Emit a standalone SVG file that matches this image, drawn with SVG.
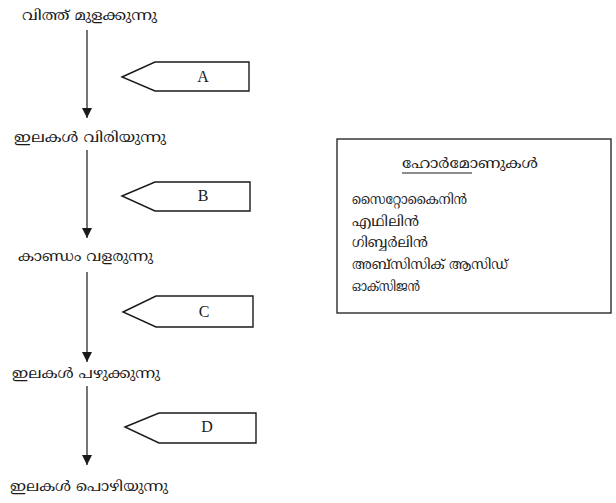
<svg xmlns="http://www.w3.org/2000/svg" width="616" height="503" viewBox="0 0 616 503">
<defs>
<style>
.ml{font-family:"Noto Serif Malayalam","Rachana","Noto Sans Malayalam","Lohit Malayalam","Meera","Manjari","DejaVu Serif",serif;font-size:14px;fill:#1a1a1a;}
.lbl{font-family:"Liberation Serif","Times New Roman",serif;font-size:16px;fill:#1a1a1a;text-anchor:middle;}
.tag{fill:#fff;stroke:#1a1a1a;stroke-width:1.4;stroke-linejoin:miter;}
.flow{stroke:#1a1a1a;stroke-width:1.2;fill:none;}
.box{fill:#fff;stroke:#1a1a1a;stroke-width:1.3;}
</style>
<marker id="ah" viewBox="0 0 10 10" refX="10" refY="5" markerWidth="10" markerHeight="10" markerUnits="userSpaceOnUse" orient="auto">
<path d="M0,0 L10,5 L0,10 Z" fill="#1a1a1a"/>
</marker>
</defs>
<rect width="616" height="503" fill="#fff"/>

<g id="connectors">
<line class="flow" x1="87" y1="30" x2="87" y2="118" marker-end="url(#ah)"/>
<line class="flow" x1="87" y1="150" x2="87" y2="238" marker-end="url(#ah)"/>
<line class="flow" x1="87" y1="272" x2="87" y2="362" marker-end="url(#ah)"/>
<line class="flow" x1="87" y1="386" x2="87" y2="465" marker-end="url(#ah)"/>
</g>

<g id="step1"><text class="ml" x="22" y="20" textLength="135" lengthAdjust="spacingAndGlyphs">വിത്ത് മുളക്കുന്നു</text></g>
<g id="step2"><text class="ml" x="14" y="142" textLength="152" lengthAdjust="spacingAndGlyphs">ഇലകൾ വിരിയുന്നു</text></g>
<g id="step3"><text class="ml" x="18" y="261" textLength="135" lengthAdjust="spacingAndGlyphs">കാണ്ഡം വളരുന്നു</text></g>
<g id="step4"><text class="ml" x="12" y="378" textLength="148" lengthAdjust="spacingAndGlyphs">ഇലകൾ പഴുക്കുന്നു</text></g>
<g id="step5"><text class="ml" x="10" y="491" textLength="158" lengthAdjust="spacingAndGlyphs">ഇലകൾ പൊഴിയുന്നു</text></g>

<g id="tagA"><polygon class="tag" points="122,77 155,62 249,62 249,91 155,91"/><text class="lbl" x="203" y="82">A</text></g>
<g id="tagB"><polygon class="tag" points="122,196 155,182 250,182 250,211 155,211"/><text class="lbl" x="203" y="201">B</text></g>
<g id="tagC"><polygon class="tag" points="123,312 156,296 253,296 253,327 156,327"/><text class="lbl" x="204" y="317">C</text></g>
<g id="tagD"><polygon class="tag" points="125,427 159,413 256,413 256,443 159,443"/><text class="lbl" x="207" y="432">D</text></g>

<g id="hormones">
<rect class="box" x="337" y="139" width="274" height="174"/>
<text class="ml" x="402" y="168" textLength="136" lengthAdjust="spacingAndGlyphs">ഹോർമോണുകൾ</text>
<line x1="402" y1="173" x2="472" y2="173" stroke="#1a1a1a" stroke-width="1"/>
<text class="ml" x="352" y="204" textLength="115" lengthAdjust="spacingAndGlyphs">സൈറ്റോകൈനിൻ</text>
<text class="ml" x="352" y="226" textLength="67" lengthAdjust="spacingAndGlyphs">എഥിലിൻ</text>
<text class="ml" x="352" y="247" textLength="76" lengthAdjust="spacingAndGlyphs">ഗിബ്ബർലിൻ</text>
<text class="ml" x="352" y="269" textLength="156" lengthAdjust="spacingAndGlyphs">അബ്സിസിക് ആസിഡ്</text>
<text class="ml" x="352" y="291" textLength="68" lengthAdjust="spacingAndGlyphs">ഓക്സിജൻ</text>
</g>
</svg>
